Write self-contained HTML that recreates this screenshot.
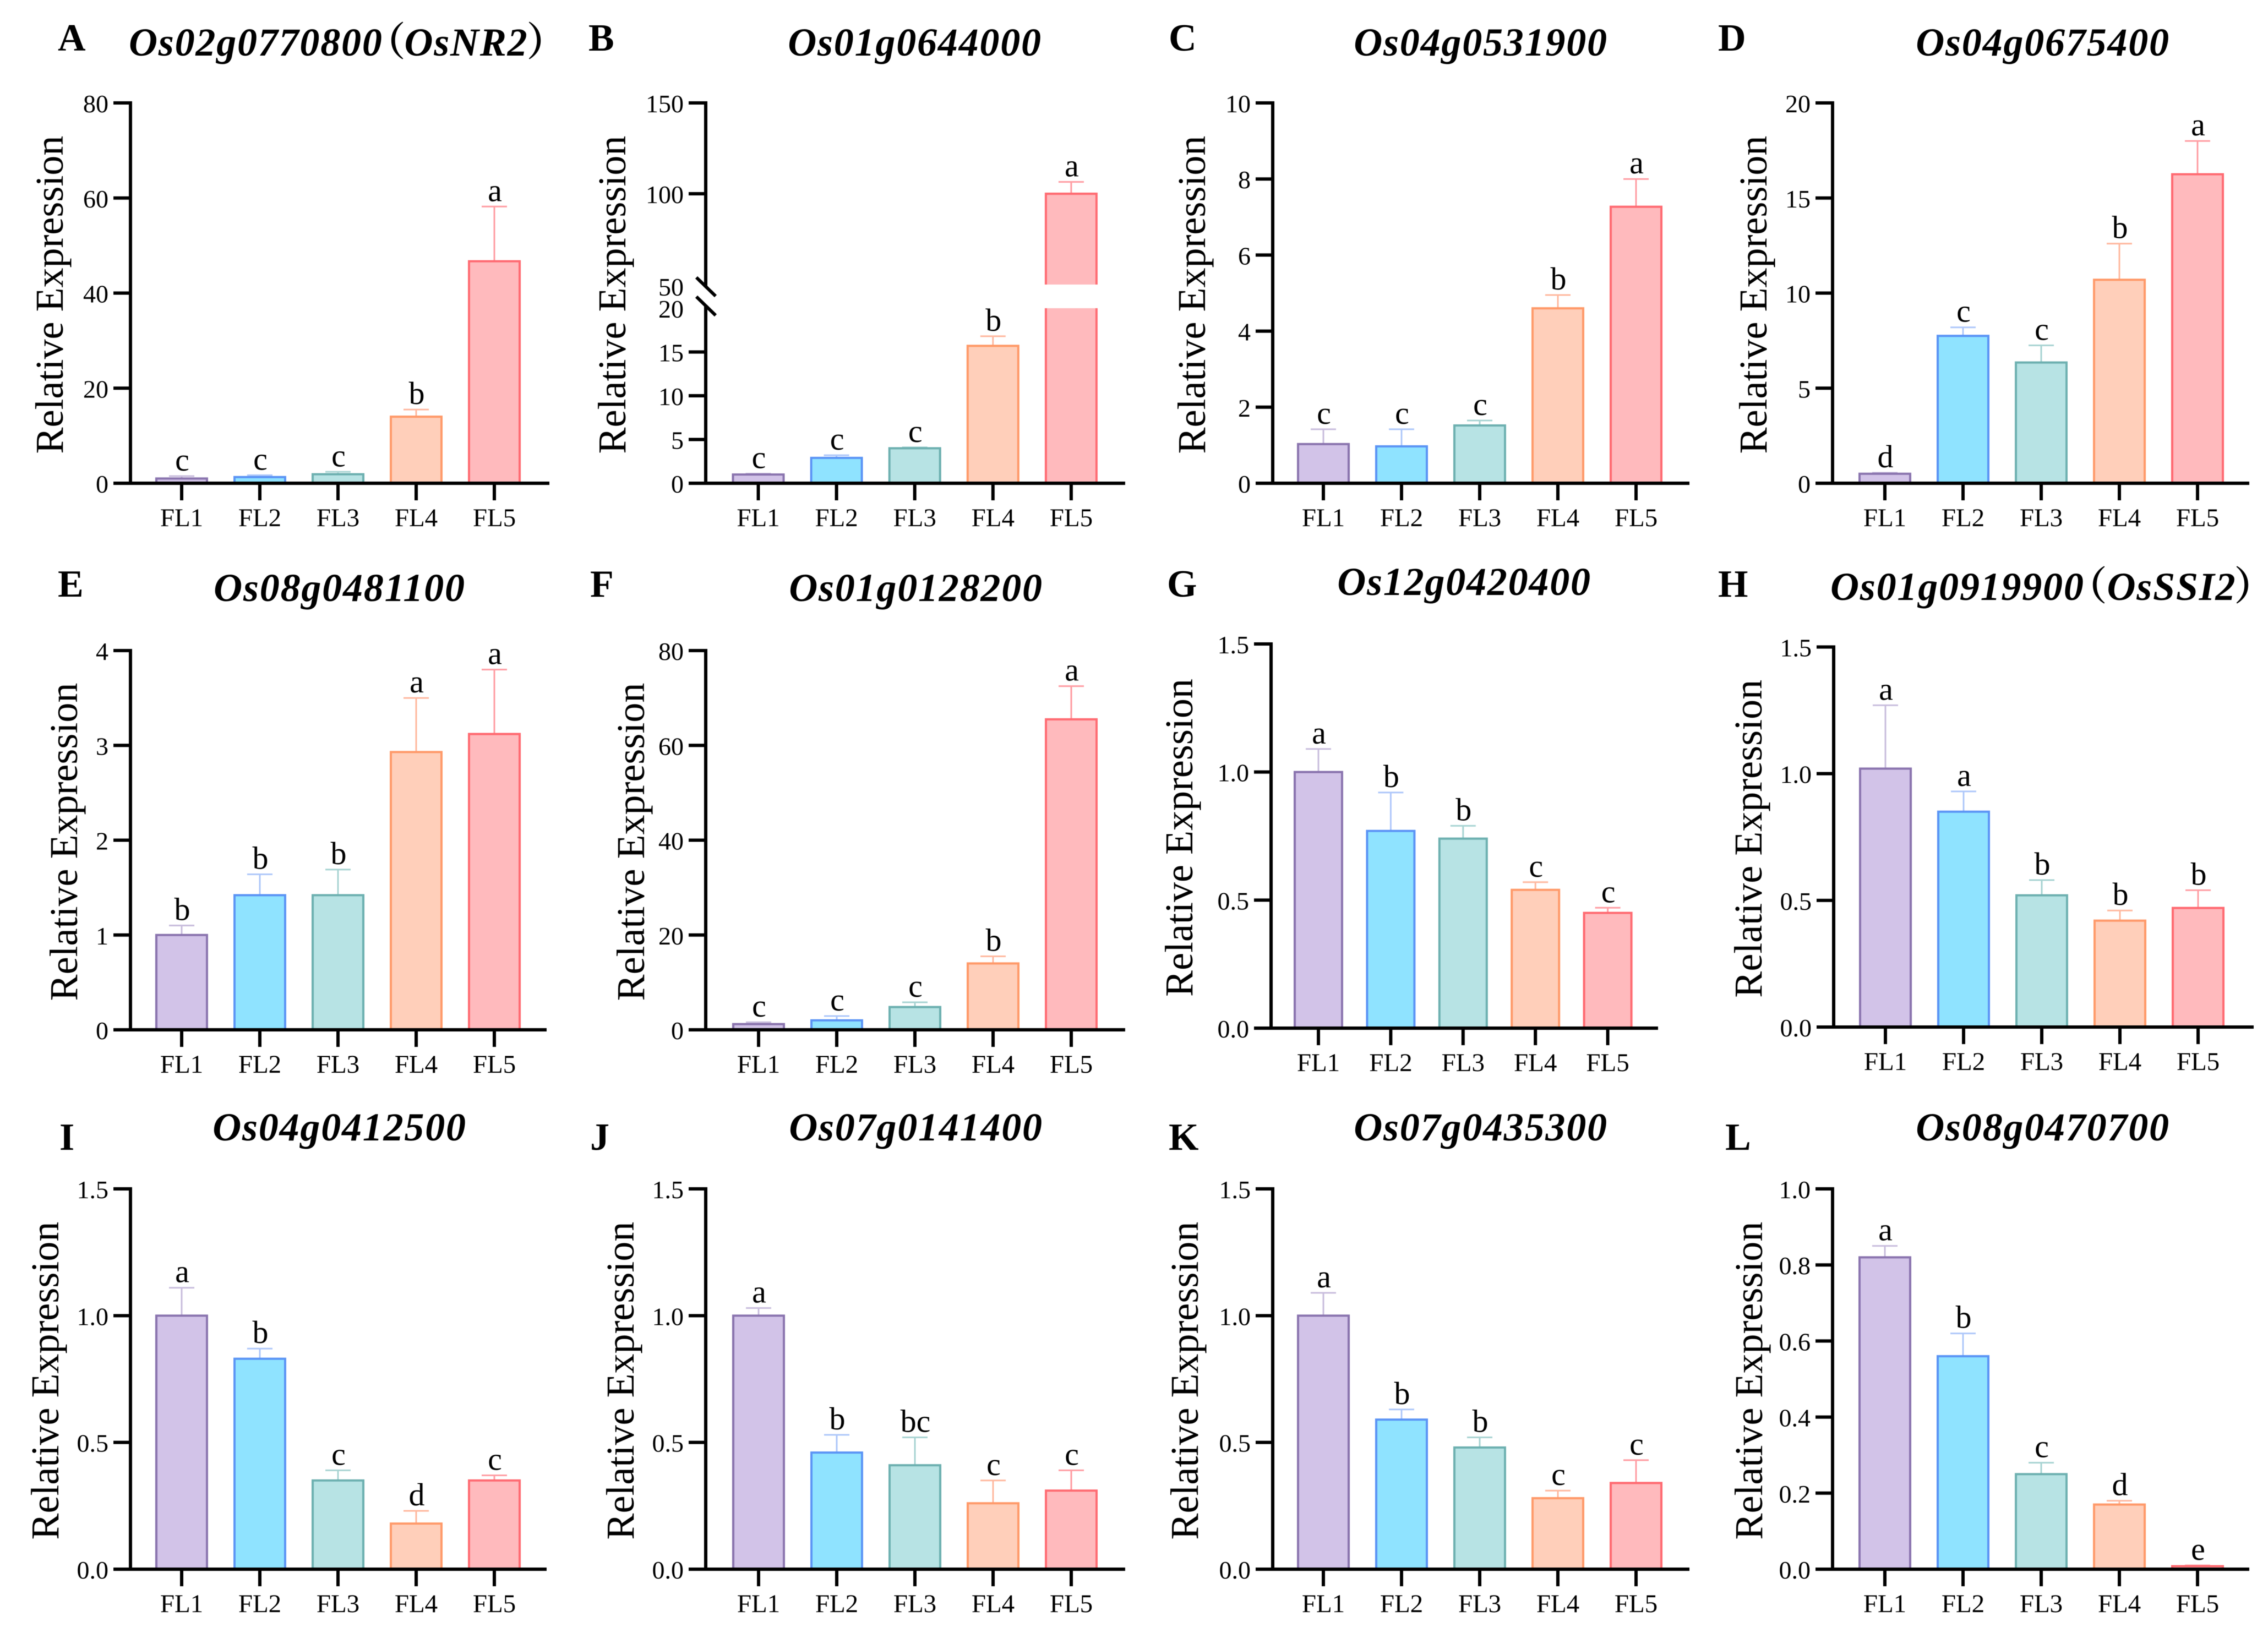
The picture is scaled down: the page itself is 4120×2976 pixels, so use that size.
<!DOCTYPE html>
<html lang="en">
<head>
<meta charset="utf-8">
<title>Relative expression of rice genes across flag-leaf stages</title>
<style>
html,body{margin:0;padding:0;background:#fff;}
body{width:4120px;height:2976px;overflow:hidden;}
svg{display:block;filter:blur(0.7px);}
text{font-family:"Liberation Serif","Noto Serif CJK SC",serif;fill:#000;}
</style>
</head>
<body>
<svg id="figure" xmlns="http://www.w3.org/2000/svg" width="4120" height="2976" viewBox="0 0 4120 2976"></svg>
<script>
const categories = ['FL1','FL2','FL3','FL4','FL5'];

const valuesA = [1, 1.3, 1.9, 14, 46.7];
const errorsA = [0.5, 0.4, 0.5, 1.5, 11.5];
const lettersA = ['c','c','c','b','a'];
const ticksA = [0, 20, 40, 60, 80];

const valuesB = [1, 2.9, 4, 15.7, 100];
const errorsB = [0.1, 0.3, 0.1, 1.1, 6.5];
const lettersB = ['c','c','c','b','a'];
const ticksBLower = [0, 5, 10, 15, 20];
const ticksBUpper = [50, 100, 150];

const valuesC = [1.03, 0.97, 1.52, 4.6, 7.27];
const errorsC = [0.39, 0.45, 0.13, 0.35, 0.73];
const lettersC = ['c','c','c','b','a'];
const ticksC = [0, 2, 4, 6, 8, 10];

const valuesD = [0.5, 7.75, 6.35, 10.7, 16.25];
const errorsD = [0.05, 0.45, 0.9, 1.9, 1.75];
const lettersD = ['d','c','c','b','a'];
const ticksD = [0, 5, 10, 15, 20];

const valuesE = [1, 1.42, 1.42, 2.93, 3.12];
const errorsE = [0.1, 0.22, 0.27, 0.57, 0.68];
const lettersE = ['b','b','b','a','a'];
const ticksE = [0, 1, 2, 3, 4];

const valuesF = [1.2, 2, 4.8, 14, 65.5];
const errorsF = [0.4, 0.9, 1, 1.5, 7];
const lettersF = ['c','c','c','b','a'];
const ticksF = [0, 20, 40, 60, 80];

const valuesG = [1, 0.77, 0.74, 0.54, 0.45];
const errorsG = [0.09, 0.15, 0.05, 0.03, 0.02];
const lettersG = ['a','b','b','c','c'];
const ticksG = ['0.0', '0.5', '1.0', '1.5'];

const valuesH = [1.02, 0.85, 0.52, 0.42, 0.47];
const errorsH = [0.25, 0.08, 0.06, 0.04, 0.07];
const lettersH = ['a','a','b','b','b'];
const ticksH = ['0.0', '0.5', '1.0', '1.5'];

const valuesI = [1, 0.83, 0.35, 0.18, 0.35];
const errorsI = [0.11, 0.04, 0.04, 0.05, 0.02];
const lettersI = ['a','b','c','d','c'];
const ticksI = ['0.0', '0.5', '1.0', '1.5'];

const valuesJ = [1, 0.46, 0.41, 0.26, 0.31];
const errorsJ = [0.03, 0.07, 0.11, 0.09, 0.08];
const lettersJ = ['a','b','bc','c','c'];
const ticksJ = ['0.0', '0.5', '1.0', '1.5'];

const valuesK = [1, 0.59, 0.48, 0.28, 0.34];
const errorsK = [0.09, 0.04, 0.04, 0.03, 0.09];
const lettersK = ['a','b','b','c','c'];
const ticksK = ['0.0', '0.5', '1.0', '1.5'];

const valuesL = [0.82, 0.56, 0.25, 0.17, 0.008];
const errorsL = [0.03, 0.06, 0.03, 0.01, 0.002];
const lettersL = ['a','b','c','d','e'];
const ticksL = ['0.0', '0.2', '0.4', '0.6', '0.8', '1.0'];

const fills = ['#D2C3E8','#8FE3FF','#B7E3E4','#FFCFBA','#FFBABD'];
const strokes = ['#8A74AE','#5B94F5','#6DB0B0','#FF9A6A','#FF6B72'];
const whiskers = ['#C9BEDD','#AFC8FA','#A9D4D3','#FFB9A0','#FF9EA4'];

const panelLayouts = [
  {id:'A',title:[['Os02g0770800',1,0],['（',0,-31],['OsNR2',1,-4],['）',0,-3]],titleAnchor:'start',values:valuesA,errors:errorsA,letters:lettersA,ticks:ticksA,axisX:237,endX:998,top:187,base:878,first:330,step:142,barW:92,labelX:114,titleX:234,titleY:101,tagX:105,tagY:92},
  {id:'B',title:[['Os01g0644000',1,0]],values:valuesB,errors:errorsB,letters:lettersB,lower:ticksBLower,upper:ticksBUpper,axisX:1282,endX:2044,top:187,base:878,first:1377.5,step:142.1,barW:92,labelX:1136,titleX:1662,titleY:101,tagX:1069,tagY:92,breakLowTop:560,breakHighBottom:517},
  {id:'C',title:[['Os04g0531900',1,0]],values:valuesC,errors:errorsC,letters:lettersC,ticks:ticksC,axisX:2312,endX:3069,top:187,base:878,first:2404,step:142,barW:92,labelX:2189,titleX:2690,titleY:101,tagX:2123,tagY:92},
  {id:'D',title:[['Os04g0675400',1,0]],values:valuesD,errors:errorsD,letters:lettersD,ticks:ticksD,axisX:3329,endX:4086,top:187,base:878,first:3424,step:142,barW:92,labelX:3209,titleX:3711,titleY:101,tagX:3121,tagY:92},
  {id:'E',title:[['Os08g0481100',1,0]],values:valuesE,errors:errorsE,letters:lettersE,ticks:ticksE,axisX:237,endX:993,top:1182,base:1871,first:330,step:142,barW:92,labelX:140,titleX:617,titleY:1092,tagX:105,tagY:1084},
  {id:'F',title:[['Os01g0128200',1,0]],values:valuesF,errors:errorsF,letters:lettersF,ticks:ticksF,axisX:1282,endX:2044,top:1182,base:1871,first:1378,step:142,barW:92,labelX:1170,titleX:1664,titleY:1092,tagX:1072,tagY:1084},
  {id:'G',title:[['Os12g0420400',1,0]],values:valuesG,errors:errorsG,letters:lettersG,ticks:ticksG,axisX:2309,endX:3012,top:1170,base:1868,first:2395,step:131.4,barW:86,labelX:2166,titleX:2660,titleY:1081,tagX:2120,tagY:1084},
  {id:'H',title:[['Os01g0919900',1,0],['（',0,-31],['OsSSI2',1,-2],['）',0,-4]],titleAnchor:'start',values:valuesH,errors:errorsH,letters:lettersH,ticks:ticksH,axisX:3331,endX:4094,top:1175.5,base:1866,first:3425,step:142,barW:92,labelX:3200,titleX:3325,titleY:1090,tagX:3121,tagY:1084},
  {id:'I',title:[['Os04g0412500',1,0]],values:valuesI,errors:errorsI,letters:lettersI,ticks:ticksI,axisX:237,endX:993,top:2160,base:2851,first:330,step:142,barW:92,labelX:106,titleX:617,titleY:2072,tagX:108,tagY:2089},
  {id:'J',title:[['Os07g0141400',1,0]],values:valuesJ,errors:errorsJ,letters:lettersJ,ticks:ticksJ,axisX:1282,endX:2044,top:2160,base:2851,first:1378,step:142,barW:92,labelX:1151,titleX:1664,titleY:2072,tagX:1072,tagY:2089},
  {id:'K',title:[['Os07g0435300',1,0]],values:valuesK,errors:errorsK,letters:lettersK,ticks:ticksK,axisX:2312,endX:3069,top:2160,base:2851,first:2404,step:142,barW:92,labelX:2176,titleX:2690,titleY:2072,tagX:2123,tagY:2089},
  {id:'L',title:[['Os08g0470700',1,0]],values:valuesL,errors:errorsL,letters:lettersL,ticks:ticksL,axisX:3329,endX:4086,top:2160,base:2851,first:3424,step:142,barW:92,labelX:3201,titleX:3711,titleY:2072,tagX:3134,tagY:2089}
];

const NS = 'http://www.w3.org/2000/svg';
const figure = document.getElementById('figure');

function make(parent, tag, attrs, content) {
  const node = document.createElementNS(NS, tag);
  for (const key in attrs) node.setAttribute(key, attrs[key]);
  if (content !== undefined) node.textContent = content;
  parent.appendChild(node);
  return node;
}

function makeScale(p) {
  if (p.lower) {
    const low = p.lower, up = p.upper;
    const lowMax = low[low.length - 1], upMin = up[0], upMax = up[up.length - 1];
    return function (v) {
      if (v <= lowMax) return p.base - (v / lowMax) * (p.base - p.breakLowTop);
      return p.breakHighBottom - ((v - upMin) / (upMax - upMin)) * (p.breakHighBottom - p.top);
    };
  }
  const nums = p.ticks.map(Number);
  const min = nums[0], max = nums[nums.length - 1];
  return function (v) {
    return p.base - ((v - min) / (max - min)) * (p.base - p.top);
  };
}

function drawTick(group, p, y, label, withMark) {
  if (withMark) {
    const mark = make(group, 'line', {x1: p.axisX - 31, x2: p.axisX, y1: y, y2: y, stroke: '#000', 'stroke-width': 6});
    
    
  }
  const text = make(group, 'text', {x: p.axisX - 40, y: y + 17, 'font-size': 46, 'text-anchor': 'end'}, label);
  
  
}

function drawPanel(p) {
  const y = makeScale(p);
  const group = make(figure, 'g', {});
  
  

  const tag = make(group, 'text', {x: p.tagX, y: p.tagY, 'font-size': 70, 'font-weight': 'bold'}, p.id);
  
  

  const title = make(group, 'text', {x: p.titleX, y: p.titleY, 'font-size': 72, 'font-weight': 'bold', 'text-anchor': p.titleAnchor || 'middle', 'letter-spacing': 1.8});
  
  
  p.title.forEach(function (part) {
    make(title, 'tspan', {'font-style': part[1] ? 'italic' : 'normal', dx: part[2]}, part[0]);
  });

  const midY = (p.top + p.base) / 2 + 3;
  const ylabel = make(group, 'text', {x: p.labelX, y: midY, 'font-size': 72, 'text-anchor': 'middle', transform: 'rotate(-90 ' + p.labelX + ' ' + midY + ')'}, 'Relative Expression');
  
  

  p.values.forEach(function (value, i) {
    const cx = p.first + i * p.step;
    const topY = y(value);
    const capY = y(value + p.errors[i]);

    const stem = make(group, 'line', {x1: cx, x2: cx, y1: topY, y2: capY, stroke: whiskers[i], 'stroke-width': 3});
    
    
    const cap = make(group, 'line', {x1: cx - 23, x2: cx + 23, y1: capY, y2: capY, stroke: whiskers[i], 'stroke-width': 3});
    
    

    const bar = make(group, 'rect', {x: cx - p.barW / 2, y: topY, width: p.barW, height: Math.max(0, p.base - topY), fill: fills[i], stroke: strokes[i], 'stroke-width': 4});
    
    

    if (p.lower && topY < p.breakHighBottom) {
      const gap = make(group, 'rect', {x: cx - p.barW / 2 - 4, y: p.breakHighBottom, width: p.barW + 8, height: p.breakLowTop - p.breakHighBottom, fill: '#fff'});
      
      
    }

    const sig = make(group, 'text', {x: cx + 1, y: capY - 10, 'font-size': 58, 'text-anchor': 'middle'}, p.letters[i]);
    
    

    const mark = make(group, 'line', {x1: cx, x2: cx, y1: p.base, y2: p.base + 31, stroke: '#000', 'stroke-width': 6});
    
    

    const cat = make(group, 'text', {x: cx, y: p.base + 78, 'font-size': 47, 'text-anchor': 'middle'}, categories[i]);
    
    
  });

  const xAxis = make(group, 'line', {x1: p.axisX - 31, x2: p.endX, y1: p.base, y2: p.base, stroke: '#000', 'stroke-width': 6});
  
  

  if (p.lower) {
    const upperAxis = make(group, 'line', {x1: p.axisX, x2: p.axisX, y1: p.top - 3, y2: p.breakHighBottom + 4, stroke: '#000', 'stroke-width': 6});
    
    
    const lowerAxis = make(group, 'line', {x1: p.axisX, x2: p.axisX, y1: p.breakLowTop - 4, y2: p.base + 3, stroke: '#000', 'stroke-width': 6});
    
    
    [p.breakHighBottom + 4, p.breakLowTop - 4].forEach(function (my) {
      const slash = make(group, 'line', {x1: p.axisX - 17, x2: p.axisX + 18, y1: my - 17, y2: my + 17, stroke: '#000', 'stroke-width': 6});
      
      
    });
    p.lower.forEach(function (t, i) {
      drawTick(group, p, y(t), String(t), i < p.lower.length - 1);
    });
    p.upper.forEach(function (t, i) {
      drawTick(group, p, y(t) + (i === 0 ? 3 : 0), String(t), i > 0);
    });
  } else {
    const yAxis = make(group, 'line', {x1: p.axisX, x2: p.axisX, y1: p.top - 3, y2: p.base + 3, stroke: '#000', 'stroke-width': 6});
    
    
    p.ticks.forEach(function (t) {
      drawTick(group, p, y(Number(t)), String(t), true);
    });
  }
}

panelLayouts.forEach(drawPanel);
</script>
</body>
</html>
